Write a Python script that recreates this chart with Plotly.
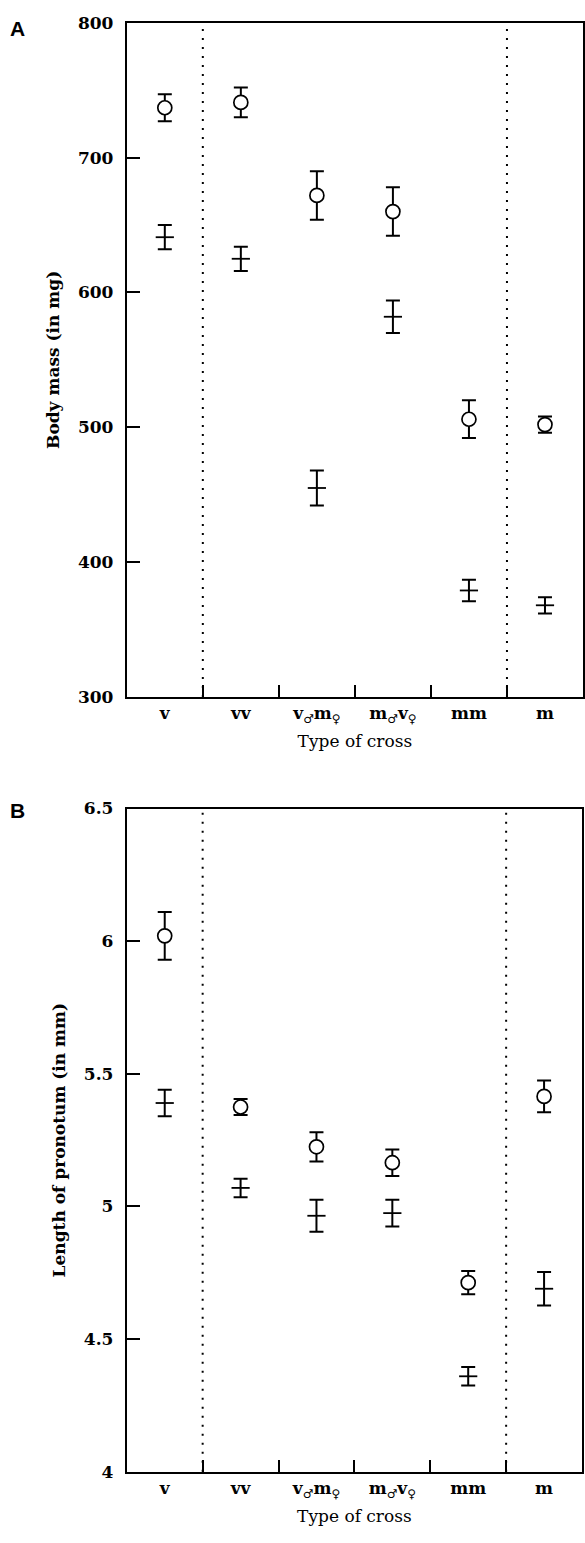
import plotly.graph_objects as go

categories = ["v", "vv", "v<sub>♂</sub>m<sub>♀</sub>", "m<sub>♂</sub>v<sub>♀</sub>", "mm", "m"]

# Panel A: body mass (mg)
mass_female = [737, 741, 672, 660, 506, 502]
mass_female_err = [10, 11, 18, 18, 14, 6]
mass_male = [641, 625, 455, 582, 379, 368]
mass_male_err = [9, 9, 13, 12, 8, 6]

# Panel B: pronotum length (mm)
pron_female = [6.02, 5.375, 5.225, 5.165, 4.713, 5.415]
pron_female_err = [0.09, 0.03, 0.055, 0.05, 0.044, 0.06]
pron_male = [5.39, 5.07, 4.965, 4.975, 4.36, 4.69]
pron_male_err = [0.05, 0.035, 0.06, 0.05, 0.035, 0.063]

x_pos = list(range(len(categories)))
boundaries = [0.5, 1.5, 2.5, 3.5, 4.5]
dotted = [0.5, 4.5]

W, H = 585, 1543
def px_x(p):
    return p / W
def px_y(p):
    return 1 - p / H

SERIF = "DejaVu Serif"

fig = go.Figure()

def add_panel(xa, ya, fem, fem_err, mal, mal_err):
    fig.add_trace(go.Scatter(
        x=x_pos, y=mal, xaxis=xa, yaxis=ya, mode="markers",
        marker=dict(symbol="line-ew", size=13, color="black",
                    line=dict(color="black", width=1.8)),
        error_y=dict(type="data", array=mal_err, color="black", thickness=2, width=7),
        showlegend=False, cliponaxis=False))
    fig.add_trace(go.Scatter(
        x=x_pos, y=fem, xaxis=xa, yaxis=ya, mode="markers",
        marker=dict(symbol="circle", size=14, color="white",
                    line=dict(color="black", width=1.7)),
        error_y=dict(type="data", array=fem_err, color="black", thickness=2, width=7),
        showlegend=False, cliponaxis=False))

add_panel("x", "y", mass_female, mass_female_err, mass_male, mass_male_err)
add_panel("x2", "y2", pron_female, pron_female_err, pron_male, pron_male_err)

xcommon = dict(
    range=[-0.5, 5.5], tickmode="array", tickvals=x_pos, ticktext=categories,
    ticks="", showgrid=False, zeroline=False, showline=True, linecolor="black",
    linewidth=2, mirror=True,
    tickfont=dict(family=SERIF, size=17, color="black", weight="bold"),
    minor=dict(tickmode="array", tickvals=boundaries, ticks="inside", ticklen=12,
               tickcolor="black", tickwidth=2, showgrid=False),
    title=dict(text="Type of cross", font=dict(family=SERIF, size=17, color="black"), standoff=10),
)
ycommon = dict(
    showgrid=False, zeroline=False, showline=True, linecolor="black", linewidth=2,
    mirror=True, ticks="inside", ticklen=13, tickwidth=2, tickcolor="black",
    tickfont=dict(family=SERIF, size=17, color="black", weight="bold"),
    ticklabelstandoff=8,
)

fig.update_layout(
    width=W, height=H, autosize=False,
    margin=dict(l=0, r=0, t=0, b=0),
    plot_bgcolor="white", paper_bgcolor="white",
    xaxis=dict(xcommon, domain=[px_x(127), px_x(584)], anchor="y"),
    yaxis=dict(ycommon, domain=[px_y(696), px_y(13)], anchor="x", range=[300, 800],
               tickmode="array", tickvals=[300, 400, 500, 600, 700, 800],
               title=dict(text="Body mass (in mg)", font=dict(family=SERIF, size=17, color="black", weight="bold"), standoff=14)),
    xaxis2=dict(xcommon, domain=[px_x(127), px_x(583)], anchor="y2"),
    yaxis2=dict(ycommon, domain=[px_y(1481), px_y(809)], anchor="x2", range=[4, 6.5],
                tickmode="array", tickvals=[4, 4.5, 5, 5.5, 6, 6.5],
                ticktext=["4", "4.5", "5", "5.5", "6", "6.5"],
                title=dict(text="Length of pronotum (in mm)", font=dict(family=SERIF, size=17, color="black", weight="bold"), standoff=14)),
)

for xa, ya in [("x", "y"), ("x2", "y2")]:
    for xv in dotted:
        fig.add_shape(type="line", xref=xa, yref=ya + " domain", x0=xv, x1=xv, y0=0, y1=1,
                      line=dict(color="black", width=2, dash="2px,7px"), layer="below")

fig.add_annotation(text="<b>A</b>", xref="paper", yref="paper", x=px_x(8), y=px_y(5),
                   xanchor="left", yanchor="top", showarrow=False,
                   font=dict(family="Liberation Sans", size=21, color="black"))
fig.add_annotation(text="<b>B</b>", xref="paper", yref="paper", x=px_x(8), y=px_y(797),
                   xanchor="left", yanchor="top", showarrow=False,
                   font=dict(family="Liberation Sans", size=21, color="black"))

fig.write_html("out.html")
